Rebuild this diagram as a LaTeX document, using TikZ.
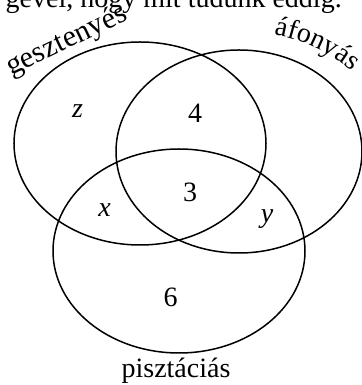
\documentclass[tikz,border=0pt]{standalone}
\usepackage{fontspec}
\setmainfont{Liberation Serif}
\usetikzlibrary{decorations.text}
\begin{document}
\begin{tikzpicture}[x=0.5pt, y=0.5pt, line width=0.75pt, every node/.style={inner sep=0pt, font=\fontsize{14}{16}\selectfont}]
	
	% ================= 画布 =================
	\useasboundingbox (0,0) rectangle (362,385);
	
	% 上一行文字（被裁掉一半）
	\node[anchor=base west] (prevline) at (5,377) {gevel, hogy mit tudunk eddig.};
	
	% ================= 三个椭圆 =================
	% 左上：gesztenyés
	\draw (140,241.5) ellipse [x radius=126, y radius=101.5];
	% 右上：áfonyás
	\draw (239,233.5) ellipse [x radius=123, y radius=101.5];
	% 下：pisztáciás
	\draw (179,134) ellipse [x radius=126, y radius=102];
	
	% 集合名称
	\node[anchor=base, rotate=25.5, font=\fontsize{15}{17}\selectfont] (lblG) at (70,337.5) {gesztenyés};
	% áfonyás 沿圆弧排列
	\coordinate (arcA) at (246,188.5);
	\path[decorate, decoration={text along path, text align=center,
		text={|\fontsize{14}{16}\selectfont|áfonyás}}]
		(arcA) ++(88:164) arc[start angle=88, end angle=42, radius=164];
	\node[anchor=base] (lblP) at (176,7) {pisztáciás};
	
	% ================= 各区域的数 =================
	\node[anchor=base] (z) at (77.5,267) {\textit{z}};
	\node[anchor=base] (n4) at (195,262) {4};
	\node[anchor=base] (n3) at (190,183) {3};
	\node[anchor=base] (x) at (104.5,168) {\textit{x}};
	\node[anchor=base] (y) at (267,162) {\textit{y}};
	\node[anchor=base] (n6) at (170.5,78) {6};
	
\end{tikzpicture}
\end{document}
